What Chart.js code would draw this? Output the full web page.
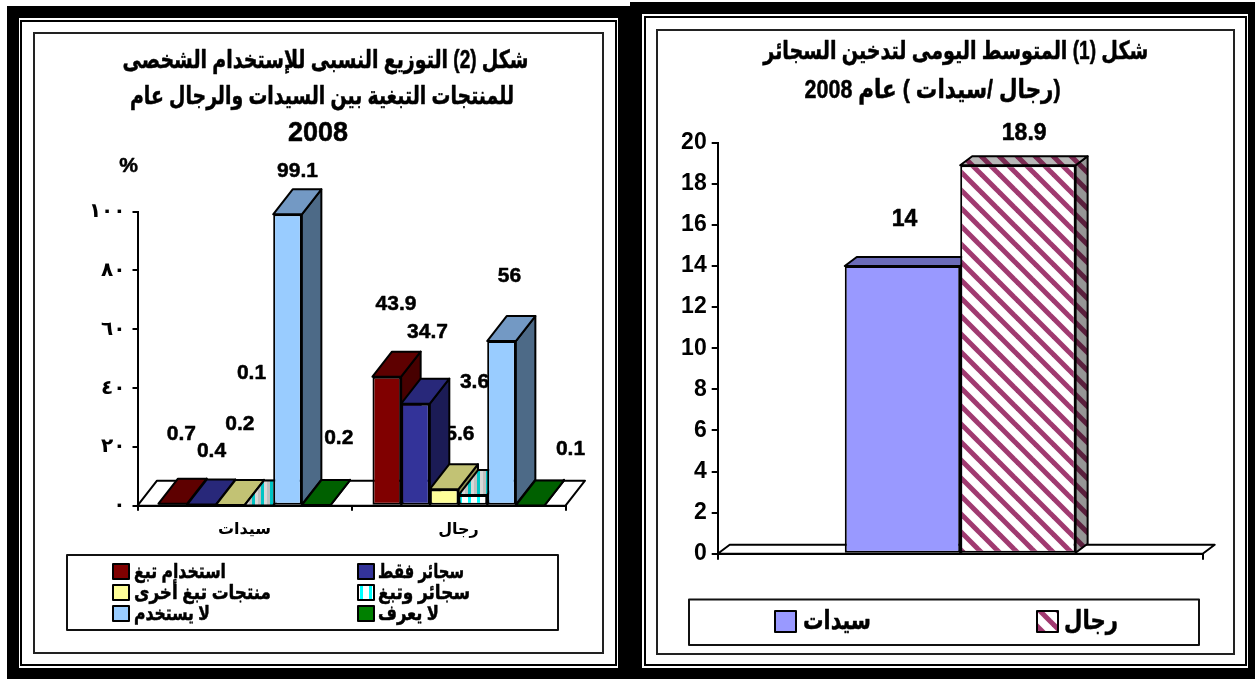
<!DOCTYPE html>
<html lang="ar">
<head>
<meta charset="utf-8">
<script src="https://cdn.jsdelivr.net/npm/chart.js@4/dist/chart.umd.min.js"></script>
<style>
html,body{margin:0;padding:0;background:#fff;width:1255px;height:679px;overflow:hidden}
.box{position:absolute;box-sizing:border-box}
canvas{position:absolute}
</style>
</head>
<body>
<div class="box" style="left:7px;top:6px;width:623px;height:673px;background:#000"></div>
<div class="box" style="left:630px;top:2px;width:625px;height:677px;background:#000"></div>
<div class="box" style="left:19px;top:18px;width:599px;height:650px;background:#fff"></div>
<div class="box" style="left:642px;top:14px;width:606px;height:654px;background:#fff"></div>
<div class="box" style="left:20px;top:20px;width:597px;height:646px;border:2px solid #000"></div>
<div class="box" style="left:644px;top:16px;width:603px;height:650px;border:2px solid #000"></div>
<div class="box" style="left:33px;top:32px;width:571px;height:622px;border:2px solid #222"></div>
<div class="box" style="left:656px;top:29px;width:579px;height:626px;border:2px solid #222"></div>
<canvas id="left" width="571" height="622" style="left:33px;top:32px"></canvas>
<canvas id="right" width="579" height="626" style="left:656px;top:29px"></canvas>
<script>
// ---- data: figure 2 (left)
const useCategories = ['سيدات', 'رجال'];
const useSeriesNames = ['استخدام تبغ', 'سجائر فقط', 'منتجات تبغ أخرى', 'سجائر وتبغ', 'لا يستخدم', 'لا يعرف'];
const tobaccoUse = [0.7, 43.9];
const cigarettesOnly = [0.4, 34.7];
const otherProducts = [0.2, 5.6];
const cigarettesAndTobacco = [0.1, 3.6];
const nonUsers = [99.1, 56];
const unknownUse = [0.2, 0.1];
const useTickLabels = ['٠', '٢٠', '٤٠', '٦٠', '٨٠', '١٠٠'];
const useTitle = ['شكل (2) التوزيع النسبى للإستخدام الشخصى', 'للمنتجات التبغية بين السيدات والرجال عام', '2008'];
const useUnit = '%';
// ---- data: figure 1 (right)
const dailyCategories = [''];
const dailyNames = ['سيدات', 'رجال'];
const dailyWomen = [14];
const dailyMen = [18.9];
const dailyTickLabels = ['0', '2', '4', '6', '8', '10', '12', '14', '16', '18', '20'];
const dailyTitle = ['شكل (1) المتوسط اليومى لتدخين السجائر', '(رجال /سيدات ) عام 2008'];

// ---- fills
const FONT = '"Liberation Sans","DejaVu Sans",sans-serif';
function tile(w, h, paint) {
  const c = document.createElement('canvas');
  c.width = w; c.height = h;
  paint(c.getContext('2d'), w, h);
  return c.getContext('2d').createPattern(c, 'repeat');
}
function hatch(bg, fg) {
  return tile(18, 18, (g, w) => {
    g.fillStyle = bg; g.fillRect(0, 0, w, w);
    g.strokeStyle = fg; g.lineWidth = 5;
    [-18, 0, 18].forEach(o => { g.beginPath(); g.moveTo(o - 2, -2); g.lineTo(o + 20, 20); g.stroke(); });
  });
}
function vstripes(colors) {
  return tile(colors.length * 3, 4, (g, w, h) => {
    colors.forEach((c, i) => { g.fillStyle = c; g.fillRect(i * 3, 0, 3, h); });
  });
}
const cyanFront = vstripes(['#ffffff', '#00ffff', '#ffffff']);
const cyanTop = vstripes(['#c0c0c0', '#00c4c4', '#d8d8d8']);
const cyanSide = vstripes(['#9a9a9a', '#00a0a0', '#b0b0b0']);
const menFront = hatch('#ffffff', '#a03a70');
const menTop = hatch('#b8b8b8', '#7a2a52');
const menSide = hatch('#969696', '#5a1f3d');

// ---- helpers
function put(ctx, text, x, y, size, opts) {
  opts = opts || {};
  ctx.save();
  ctx.font = 'bold ' + size + 'px ' + FONT;
  ctx.fillStyle = '#000';
  ctx.strokeStyle = '#000';
  ctx.lineWidth = 0.5;
  ctx.textAlign = opts.align || 'center';
  ctx.textBaseline = 'middle';
  ctx.direction = opts.rtl ? 'rtl' : 'ltr';
  if (opts.w) { ctx.fillText(text, x, y, opts.w); ctx.strokeText(text, x, y, opts.w); }
  else { ctx.fillText(text, x, y); ctx.strokeText(text, x, y); }
  ctx.restore();
}
function poly(ctx, pts, fill, lw) {
  ctx.beginPath();
  pts.forEach((p, i) => i ? ctx.lineTo(p[0], p[1]) : ctx.moveTo(p[0], p[1]));
  ctx.closePath();
  ctx.fillStyle = fill; ctx.fill();
  ctx.lineWidth = lw; ctx.strokeStyle = '#000'; ctx.lineJoin = 'round'; ctx.stroke();
}
const bars3d = {
  id: 'bars3d',
  beforeDatasetDraw() { return false; },
  beforeDatasetsDraw(chart, _a, o) {
    const ctx = chart.ctx, a = chart.chartArea, base = chart.scales.y.getPixelForValue(0);
    poly(ctx, [[a.left, base], [a.left + o.dx, base - o.dy], [a.right + o.dx, base - o.dy], [a.right, base]], '#fff', 2);
    chart.data.datasets.forEach((ds, i) => {
      chart.getDatasetMeta(i).data.forEach((el, j) => {
        const off = o.labelOffsets[i][j];
        put(ctx, String(ds.data[j]), el.x + off[0], el.y + off[1], o.labelSize);
      });
    });
  },
  afterDatasetsDraw(chart, _a, o) {
    const ctx = chart.ctx;
    chart.data.datasets.forEach((ds, i) => {
      chart.getDatasetMeta(i).data.forEach(el => {
        const L = el.x - el.width / 2, R = el.x + el.width / 2, T = el.y, B = el.base;
        poly(ctx, [[R, T], [R + o.dx, T - o.dy], [R + o.dx, B - o.dy], [R, B]], ds.sideColor, 2);
        poly(ctx, [[L, T], [L + o.dx, T - o.dy], [R + o.dx, T - o.dy], [R, T]], ds.topColor, 2);
        el.draw(ctx);
      });
    });
  }
};
const annotate = {
  id: 'annotate',
  afterDraw(chart, _a, o) {
    const ctx = chart.ctx;
    o.text.forEach(t => put(ctx, t.s, t.x, t.y, t.size, t));
    const b = o.box;
    ctx.fillStyle = '#fff'; ctx.strokeStyle = '#111'; ctx.lineWidth = 2;
    ctx.fillRect(b.x, b.y, b.w, b.h); ctx.strokeRect(b.x, b.y, b.w, b.h);
    chart.data.datasets.forEach((ds, i) => {
      const it = o.items[i];
      ctx.fillStyle = ds.backgroundColor;
      ctx.fillRect(it.x, it.y, o.swatch[0], o.swatch[1]);
      ctx.lineWidth = 2; ctx.strokeStyle = '#000';
      ctx.strokeRect(it.x, it.y, o.swatch[0], o.swatch[1]);
      put(ctx, ds.label, it.tx, it.y + o.swatch[1] / 2 + 0.5, o.size, { rtl: true, align: 'left', w: it.tw });
    });
  }
};
function axisFit(prop, v) { return s => { s[prop] = v; }; }

// ---- left chart
new Chart(document.getElementById('left'), {
  type: 'bar',
  plugins: [bars3d, annotate],
  data: {
    labels: useCategories,
    datasets: [
      { label: useSeriesNames[0], data: tobaccoUse, backgroundColor: '#800000', topColor: '#5e0000', sideColor: '#470000' },
      { label: useSeriesNames[1], data: cigarettesOnly, backgroundColor: '#333399', topColor: '#28287a', sideColor: '#1b1b55' },
      { label: useSeriesNames[2], data: otherProducts, backgroundColor: '#ffff99', topColor: '#c2c274', sideColor: '#8c8c50' },
      { label: useSeriesNames[3], data: cigarettesAndTobacco, backgroundColor: cyanFront, topColor: cyanTop, sideColor: cyanSide },
      { label: useSeriesNames[4], data: nonUsers, backgroundColor: '#99ccff', topColor: '#7399c4', sideColor: '#4d6a87' },
      { label: useSeriesNames[5], data: unknownUse, backgroundColor: '#008000', topColor: '#006000', sideColor: '#004000' }
    ].map(d => Object.assign(d, { borderColor: '#000', borderWidth: 2, borderSkipped: false, categoryPercentage: 0.804, barPercentage: 1 }))
  },
  options: {
    responsive: false, animation: false,
    events: [],
    layout: { padding: { left: 0, right: 38.5, top: 179.7, bottom: 0 } },
    plugins: {
      legend: { display: false }, tooltip: { enabled: false }, title: { display: false },
      bars3d: {
        dx: 19.5, dy: 25, labelSize: 21,
        labelOffsets: [
          [[8.5, -69.6], [9.2, -72.9]],
          [[10, -53.5], [12, -71.4]],
          [[9.7, -80.8], [15.7, -55.5]],
          [[-7.3, -132.7], [1.7, -113.4]],
          [[10, -43.6], [8, -64.4]],
          [[22.6, -67.4], [40.3, -56.7]]
        ]
      },
      annotate: {
        text: [
          { s: useTitle[0], x: 292.5, y: 29, size: 25, rtl: true, w: 406 },
          { s: useTitle[1], x: 289, y: 65, size: 25, rtl: true, w: 384 },
          { s: useTitle[2], x: 285, y: 101.5, size: 27 },
          { s: useUnit, x: 95.6, y: 134, size: 21 }
        ],
        box: { x: 34, y: 523, w: 491, h: 75 },
        swatch: [16, 15], size: 20,
        items: [
          { x: 80, y: 532, tx: 101, tw: 92 },
          { x: 325, y: 532, tx: 345, tw: 86 },
          { x: 80, y: 553, tx: 101, tw: 137 },
          { x: 325, y: 553, tx: 345, tw: 92 },
          { x: 80, y: 574, tx: 101, tw: 76 },
          { x: 325, y: 574, tx: 345, tw: 61 }
        ]
      }
    },
    scales: {
      x: {
        afterFit: axisFit('height', 148.3),
        grid: { offset: true, drawOnChartArea: false, color: '#000', lineWidth: 2, tickLength: 5 },
        border: { display: true, color: '#000', width: 2 },
        ticks: { color: '#000', padding: 9, font: { family: FONT, weight: 'bold', size: 16 }, maxRotation: 0 }
      },
      y: {
        min: 0, max: 100,
        afterFit: axisFit('width', 104.5),
        grid: { drawOnChartArea: false, color: '#000', lineWidth: 2, tickLength: 5 },
        border: { display: true, color: '#000', width: 2 },
        ticks: {
          stepSize: 20, color: '#000', padding: 7,
          font: { family: FONT, weight: 'bold', size: 20 },
          callback: (v) => useTickLabels[v / 20]
        }
      }
    }
  }
});

// ---- right chart
new Chart(document.getElementById('right'), {
  type: 'bar',
  plugins: [bars3d, annotate],
  data: {
    labels: dailyCategories,
    datasets: [
      { label: dailyNames[0], data: dailyWomen, backgroundColor: '#9999ff', topColor: '#6b6bb8', sideColor: '#55558f' },
      { label: dailyNames[1], data: dailyMen, backgroundColor: menFront, topColor: menTop, sideColor: menSide }
    ].map(d => Object.assign(d, { borderColor: '#000', borderWidth: 2, borderSkipped: false, categoryPercentage: 0.476, barPercentage: 1 }))
  },
  options: {
    responsive: false, animation: false,
    events: [],
    layout: { padding: { left: 0, right: 32.3, top: 113.7, bottom: 0 } },
    plugins: {
      legend: { display: false }, tooltip: { enabled: false }, title: { display: false },
      bars3d: { dx: 12, dy: 9, labelSize: 23, labelOffsets: [[[2, -46]], [[6.3, -32]]] },
      annotate: {
        text: [
          { s: dailyTitle[0], x: 299.8, y: 22.7, size: 25, rtl: true, w: 385 },
          { s: dailyTitle[1], x: 276.6, y: 61.7, size: 26, rtl: true, w: 256 }
        ],
        box: { x: 33, y: 570.5, w: 510, h: 45.5 },
        swatch: [21, 21], size: 26,
        items: [
          { x: 119, y: 582, tx: 147, tw: 68 },
          { x: 381, y: 582, tx: 408, tw: 54 }
        ]
      }
    },
    scales: {
      x: {
        afterFit: axisFit('height', 101.3),
        grid: { offset: true, drawOnChartArea: false, color: '#000', lineWidth: 2, tickLength: 6 },
        border: { display: true, color: '#000', width: 2 },
        ticks: { display: false }
      },
      y: {
        min: 0, max: 20,
        afterFit: axisFit('width', 61.7),
        grid: { drawOnChartArea: false, color: '#000', lineWidth: 2, tickLength: 6 },
        border: { display: true, color: '#000', width: 2 },
        ticks: {
          stepSize: 2, color: '#000', padding: 5,
          font: { family: FONT, weight: 'bold', size: 23 },
          callback: (v) => dailyTickLabels[v / 2]
        }
      }
    }
  }
});
</script>
</body>
</html>
